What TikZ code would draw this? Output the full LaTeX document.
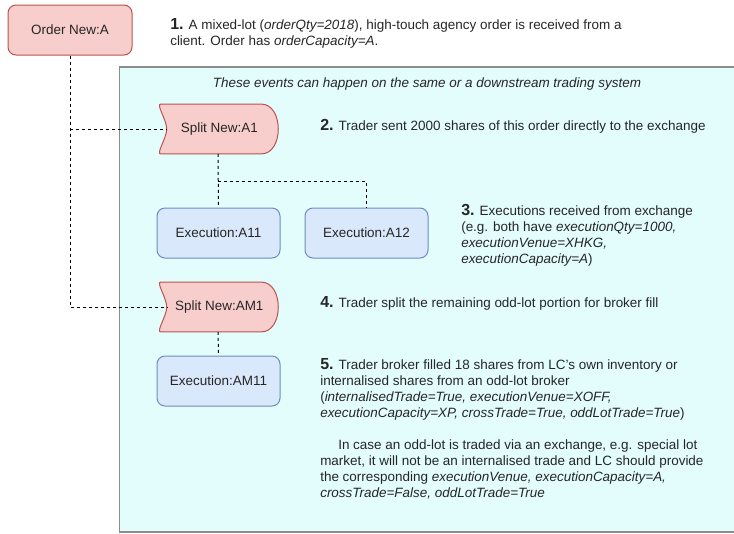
\documentclass[tikz,border=0pt]{standalone}
\usepackage{fontspec}
\setmainfont{Liberation Sans}
\usetikzlibrary{calc,backgrounds}

\definecolor{pinkfill}{HTML}{F8CECC}
\definecolor{pinkline}{HTML}{B85450}
\definecolor{bluefill}{HTML}{DAE8FC}
\definecolor{blueline}{HTML}{6C8EBF}
\definecolor{panelfill}{HTML}{E3FCFC}
\definecolor{panelline}{HTML}{8C8C8C}
\definecolor{inktext}{HTML}{262626}

% outline of a "split" shape: concave left side, bulging pointed right side
\newcommand{\splitoutline}[1]{%
  \filldraw[splitline]
    ($(#1.north west)+(3,0)$) -- ($(#1.north east)+(-17,0)$)
    .. controls ($(#1.north east)+(-6,0)$) and ($(#1.east)+(0,-13)$) .. (#1.east)
    .. controls ($(#1.east)+(0,13)$) and ($(#1.south east)+(-6,0)$) .. ($(#1.south east)+(-17,0)$)
    -- ($(#1.south west)+(3,0)$)
    .. controls ($(#1.south west)+(-2,0)$) and ($(#1.west)+(9,9)$) .. ($(#1.west)+(9,0)$)
    .. controls ($(#1.west)+(9,-9)$) and ($(#1.north west)+(-2,0)$) .. ($(#1.north west)+(3,0)$)
    -- cycle;}

\begin{document}
\begin{tikzpicture}[x=0.75pt,y=-0.75pt,
  every node/.style={text=inktext},
  boxtext/.style={font=\fontsize{10.1}{12}\selectfont, inner sep=0pt},
  orderbox/.style={boxtext, rectangle, rounded corners=6pt, draw=pinkline, fill=pinkfill,
    line width=0.75pt, minimum width=93pt, minimum height=37.5pt},
  execbox/.style={boxtext, rectangle, rounded corners=6pt, draw=blueline, fill=bluefill,
    line width=0.75pt, minimum width=92.25pt, minimum height=37.5pt},
  splitbox/.style={boxtext, rectangle, draw=none, minimum width=90pt, minimum height=37pt},
  splitline/.style={draw=pinkline, fill=pinkfill, line width=0.75pt},
  panel/.style={draw=panelline, fill=panelfill, line width=0.9pt},
  note/.style={font=\fontsize{10.1}{12}\selectfont, anchor=base west, inner sep=0pt, align=left},
  conn/.style={draw=black, line width=0.75pt, dash pattern=on 2.25pt off 2.25pt}
]
\useasboundingbox (0,0) rectangle (734,533);
\clip (0,0) rectangle (734,533);

% nodes
\node[orderbox] (orderA) at (70,30) {Order New:A};
\node[splitbox] (splitA1) at (218,129) {\hspace*{2pt}Split New:A1};
\node[execbox] (execA11) at (218.5,233) {Execution:A11};
\node[execbox] (execA12) at (366.5,233) {Execution:A12};
\node[splitbox] (splitAM1) at (218,307) {\hspace*{2pt}Split New:AM1};
\node[execbox] (execAM11) at (218.5,381) {Execution:AM11};

% container and split outlines behind the nodes
\begin{pgfonlayer}{background}
  \filldraw[panel] (119.5,67) rectangle (745,532);
  \splitoutline{splitA1}
  \splitoutline{splitAM1}
\end{pgfonlayer}

% texts (multi-line notes are placed by the baseline of their last line)
\node[note, anchor=base] (header) at (427,87) {\textit{These events can happen on the same or a downstream trading system}};

\node[note] (note1) at (170,45.5) {\textbf{\fontsize{12}{12}\selectfont 1.} A mixed-lot (\textit{orderQty=2018}), high-touch agency order is received from a\\
client. Order has \textit{orderCapacity=A}.};

\node[note] (note2) at (320,130) {\textbf{\fontsize{12}{12}\selectfont 2.} Trader sent 2000 shares of this order directly to the exchange};

\node[note] (note3) at (461,263) {\textbf{\fontsize{12}{12}\selectfont 3.} Executions received from exchange\\
(e.g. both have \textit{executionQty=1000,}\\
\textit{executionVenue=XHKG,}\\
\textit{executionCapacity=A})};

\node[note] (note4) at (320,307) {\textbf{\fontsize{12}{12}\selectfont 4.} Trader split the remaining odd-lot portion for broker fill};

\node[note] (note5) at (320,497.5) {\textbf{\fontsize{12}{12}\selectfont 5.} Trader broker filled 18 shares from LC's own inventory or\\
internalised shares from an odd-lot broker\\
(\textit{internalisedTrade=True, executionVenue=XOFF,}\\
\textit{executionCapacity=XP, crossTrade=True, oddLotTrade=True})\\[12pt]
\hspace*{13.5pt}In case an odd-lot is traded via an exchange, e.g. special lot\\
market, it will not be an internalised trade and LC should provide\\
the corresponding \textit{executionVenue, executionCapacity=A,}\\
\textit{crossTrade=False, oddLotTrade=True}};

% connectors
\coordinate (notchA1) at ($(splitA1.west)+(9,0)$);
\coordinate (notchAM1) at ($(splitAM1.west)+(9,0)$);
\draw[conn] (orderA.south) |- (notchAM1);
\draw[conn] (orderA.south |- notchA1) -- (notchA1);
\draw[conn] (splitA1.south) -- (execA11.north);
\draw[conn] (splitA1.south) ++(0,28) -| (execA12.north);
\draw[conn] (splitAM1.south) -- (execAM11.north);
\end{tikzpicture}
\end{document}
